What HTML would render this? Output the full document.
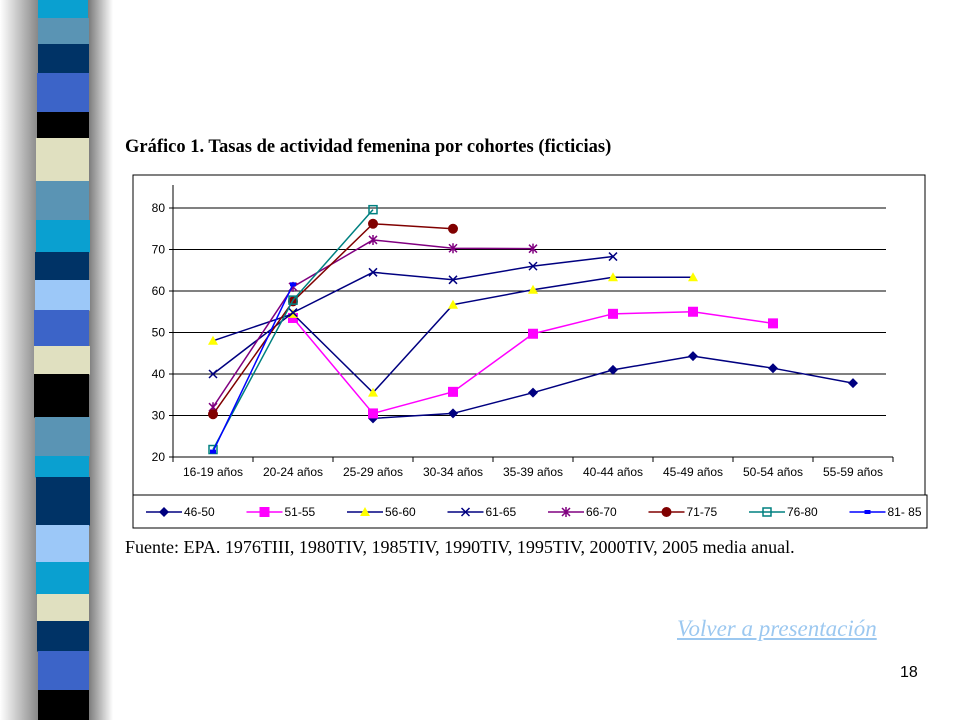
<!DOCTYPE html>
<html><head><meta charset="utf-8"><style>
body{margin:0;width:960px;height:720px;background:#fff;position:relative;overflow:hidden;font-family:"Liberation Sans",sans-serif}
.t{position:absolute;white-space:nowrap}
</style></head><body>
<svg width="120" height="720" style="position:absolute;left:0;top:0">
<defs><linearGradient id="sh" x1="0" x2="1"><stop offset="0" stop-color="#fff"/><stop offset="1" stop-color="#888"/></linearGradient>
<linearGradient id="sh2" x1="0" x2="1"><stop offset="0" stop-color="#777"/><stop offset="1" stop-color="#fff"/></linearGradient></defs>
<rect x="0" y="0" width="38" height="720" fill="url(#sh)"/>
<rect x="88" y="0" width="25" height="720" fill="url(#sh2)"/>
<g id="stripes"></g>
</svg>
<div class="t" style="left:125px;top:137px;font:bold 18.5px 'Liberation Serif',serif">Gráfico 1. Tasas de actividad femenina por cohortes (ficticias)</div>
<svg id="chart" width="960" height="720" style="position:absolute;left:0;top:0"></svg>
<div class="t" style="left:125px;top:537px;font:18px 'Liberation Serif',serif">Fuente: EPA. 1976TIII, 1980TIV, 1985TIV, 1990TIV, 1995TIV, 2000TIV, 2005 media anual.</div>
<div class="t" style="left:677px;top:616px;font:italic 23px 'Liberation Serif',serif;color:#9cc8f0;text-decoration:underline">Volver a presentación</div>
<div class="t" style="left:900px;top:664px;font:16px 'Liberation Sans',sans-serif">18</div>
<script>
const stripeColors=["#0aa0d0","#5a94b4","#003366","#3c64c8","#000","#e0e0c0","#5a94b4","#0aa0d0","#003366","#9cc8f8","#3c64c8","#e0e0c0","#000","#5a94b4","#0aa0d0","#003366","#9cc8f8","#0aa0d0","#e0e0c0","#003366","#3c64c8","#000"];
const stripeH=[18,26,29,39,26,43,39,32,28,30,36,28,43,39,21,48,37,32,27,30,39,30];
const sg=document.getElementById('stripes');const NS="http://www.w3.org/2000/svg";
let yy=0;stripeColors.forEach((c,i)=>{const r=document.createElementNS(NS,'rect');

r.setAttribute('x',34+Math.round(Math.abs(i-11)*0.4));r.setAttribute('y',yy);r.setAttribute('width',56-Math.round(Math.abs(i-11)*0.5));r.setAttribute('height',stripeH[i]+0.5);r.setAttribute('fill',c);sg.appendChild(r);yy+=stripeH[i];});

const categories=["16-19 años","20-24 años","25-29 años","30-34 años","35-39 años","40-44 años","45-49 años","50-54 años","55-59 años"];
const yTicks=[20,30,40,50,60,70,80];
const s4650=[null,null,29.3,30.5,35.5,41,44.3,41.4,37.8];
const s5155=[null,53.5,30.5,35.7,49.7,54.5,55,52.2,null];
const s5660=[48,54.5,35.5,56.7,60.3,63.3,63.3,null,null];
const s6165=[40,54.8,64.5,62.7,66,68.3,null,null,null];
const s6670=[32,61,72.3,70.3,70.2,null,null,null,null];
const s7175=[30.3,57.5,76.2,75,null,null,null,null,null];
const s7680=[21.8,57.8,79.6,null,null,null,null,null,null];
const s8185=[21.3,61.6,null,null,null,null,null,null,null];
const seriesNames=["46-50","51-55","56-60","61-65","66-70","71-75","76-80","81- 85"];
const series=[s4650,s5155,s5660,s6165,s6670,s7175,s7680,s8185];
const lineC=["#000080","#ff00ff","#000080","#000080","#800080","#800000","#008080","#0000ff"];
const markC=["#000080","#ff00ff","#ffff00","#000080","#800080","#800000","#008080","#0000ff"];
const markT=["diamond","square","triangle","x","star","circle","osquare","dash"];
const svg=document.getElementById('chart');
function el(t,a,p){const e=document.createElementNS(NS,t);for(const k in a)e.setAttribute(k,a[k]);(p||svg).appendChild(e);return e;}
const x0=173,step=80,yTop=208,yBot=457;
const xs=i=>x0+step/2+i*step;
const ys=v=>yBot-(v-20)/60*(yBot-yTop);
let e=el('rect',{x:133,y:175,width:792,height:320,fill:'#fff',stroke:'#000','stroke-width':1});


yTicks.forEach(v=>{if(v>20){e=el('line',{x1:x0,x2:886,y1:ys(v),y2:ys(v),stroke:'#000','stroke-width':1});

}
e=el('text',{x:165,y:ys(v)+4,'text-anchor':'end','font-size':12,'font-family':'Liberation Sans'});e.textContent=v;


el('line',{x1:x0-4,x2:x0,y1:ys(v),y2:ys(v),stroke:'#000'});});
el('line',{x1:x0,x2:x0,y1:185,y2:yBot,stroke:'#000'});
el('line',{x1:x0,x2:x0+step*9,y1:yBot,y2:yBot,stroke:'#000'});
categories.forEach((c,i)=>{el('line',{x1:x0+i*step,x2:x0+i*step,y1:yBot,y2:yBot+5,stroke:'#000'});
e=el('text',{x:xs(i),y:yBot+19,'text-anchor':'middle','font-size':12,'font-family':'Liberation Sans'});e.textContent=c;

});
el('line',{x1:x0+9*step,x2:x0+9*step,y1:yBot,y2:yBot+5,stroke:'#000'});
function marker(t,x,y,c,g){
 if(t=="diamond")el('polygon',{points:`${x},${y-5} ${x+5},${y} ${x},${y+5} ${x-5},${y}`,fill:c},g);
 else if(t=="square")el('rect',{x:x-5,y:y-5,width:10,height:10,fill:c},g);
 else if(t=="triangle")el('polygon',{points:`${x},${y-5} ${x+5},${y+4} ${x-5},${y+4}`,fill:c},g);
 else if(t=="x"){el('path',{d:`M${x-4} ${y-4}L${x+4} ${y+4}M${x+4} ${y-4}L${x-4} ${y+4}`,stroke:c,'stroke-width':1.5},g);}
 else if(t=="star"){el('path',{d:`M${x-4} ${y-4}L${x+4} ${y+4}M${x+4} ${y-4}L${x-4} ${y+4}M${x} ${y-5}L${x} ${y+5}`,stroke:c,'stroke-width':1.5},g);}
 else if(t=="circle")el('circle',{cx:x,cy:y,r:5,fill:c},g);
 else if(t=="osquare")el('rect',{x:x-4,y:y-4,width:8,height:8,fill:'none',stroke:c,'stroke-width':1.5},g);
 else el('rect',{x:x-3,y:y-2,width:6,height:4,fill:c},g);
}
series.forEach((s,k)=>{const g=el('g',{});
 
 
 let d='';s.forEach((v,i)=>{if(v!=null)d+=(d?'L':'M')+xs(i)+' '+ys(v);});
 el('path',{d:d,fill:'none',stroke:lineC[k],'stroke-width':1.5},g);
 s.forEach((v,i)=>{if(v!=null)marker(markT[k],xs(i),ys(v),markC[k],g);});});
e=el('rect',{x:133,y:495,width:794,height:33,fill:'#fff',stroke:'#000'});


seriesNames.forEach((n,k)=>{const lx=146+k*100.5,g=el('g',{});
 
 
 el('line',{x1:lx,x2:lx+36,y1:512,y2:512,stroke:lineC[k],'stroke-width':1.5},g);
 marker(markT[k],lx+18,512,markC[k],g);
 const t=el('text',{x:lx+38,y:516,'font-size':12,'font-family':'Liberation Sans'},g);t.textContent=n;});
</script>
</body></html>
